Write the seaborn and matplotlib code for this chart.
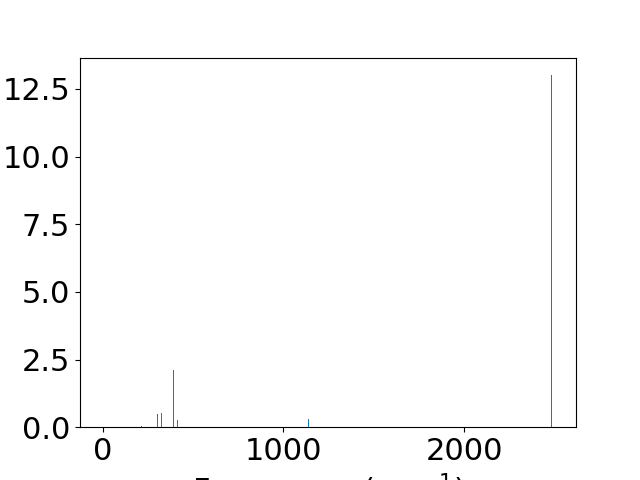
import numpy as np
import matplotlib
matplotlib.use("Agg")
import matplotlib.pyplot as plt
import seaborn as sns

# vibrational frequencies (cm^-1) and intensities
freq = [212, 301, 323, 390, 412, 1137, 2484]
intensity = [0.05, 0.49, 0.54, 2.12, 0.27, 0.31, 13.0]

plt.rcParams['font.size'] = 22

fig, ax = plt.subplots(figsize=(6.4, 4.8), dpi=100)
sns.histplot(x=freq, weights=intensity, binwidth=5, binrange=(0, 2500),
             color='#1f77b4', alpha=1, linewidth=0, ax=ax)
ax.set_xlim(-127, 2620)
ax.set_ylim(0, 13.66)
ax.set_ylabel('')
ax.set_xlabel('Frequency (cm$^{-1}$)')
ax.set_xticks([0, 1000, 2000])

fig.savefig("out.png", dpi=100)
